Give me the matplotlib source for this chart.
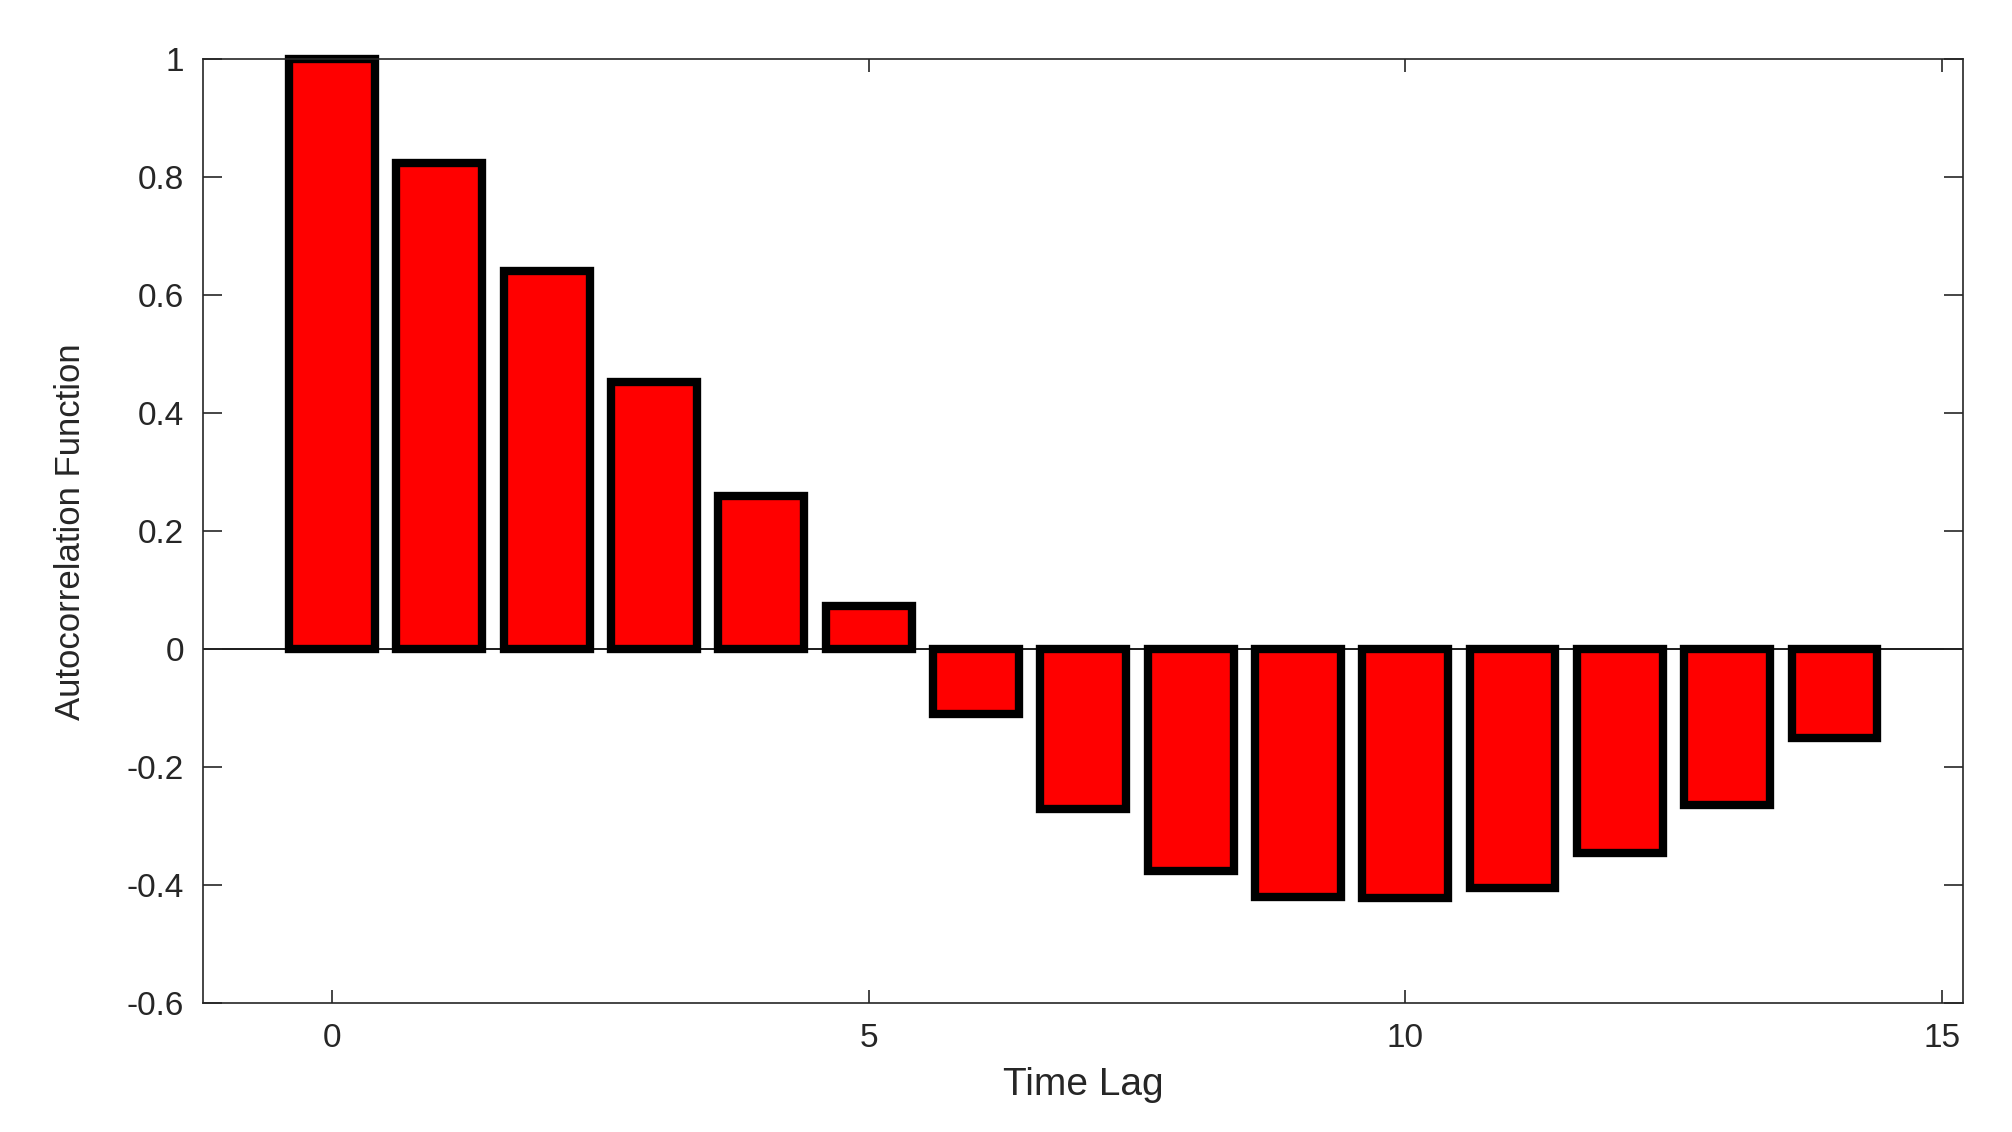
import matplotlib.pyplot as plt
from matplotlib import font_manager

# autocorrelation values
lags = list(range(15))
acf = [1.0, 0.824, 0.642, 0.453, 0.260, 0.074, -0.110, -0.270,
       -0.375, -0.419, -0.422, -0.404, -0.346, -0.264, -0.150]
xticks = [0, 5, 10, 15]
yticks = [-0.6, -0.4, -0.2, 0, 0.2, 0.4, 0.6, 0.8, 1]
ytick_labels = ['-0.6', '-0.4', '-0.2', '0', '0.2', '0.4', '0.6', '0.8', '1']

names = {f.name for f in font_manager.fontManager.ttflist}
narrow = 'Liberation Sans Narrow' if 'Liberation Sans Narrow' in names else 'Liberation Sans'

plt.rcParams['font.family'] = ['Liberation Sans', 'DejaVu Sans']
txt = '#262626'

fig = plt.figure(figsize=(20.12, 11.32), dpi=100)
ax = fig.add_axes([0.1010, 0.1137, 0.9758 - 0.1010, 0.9476 - 0.1137])

ax.axhline(0, color='#1a1a1a', lw=1.4, zorder=1)
ax.bar(lags, acf, width=0.8, color='#ff0000', edgecolor='black',
       linewidth=6, zorder=2, clip_on=False)

ax.set_xlim(-1.2, 15.2)
ax.set_ylim(-0.6, 1.0)
ax.set_xticks(xticks)
ax.set_yticks(yticks)
ax.set_yticklabels(ytick_labels)

for s in ax.spines.values():
    s.set_color(txt)
    s.set_linewidth(1.2)

ax.tick_params(axis='both', direction='in', top=True, right=True,
               color=txt, labelcolor=txt, labelsize=24, width=1.2)
ax.tick_params(axis='y', length=13.5, pad=14)
ax.tick_params(axis='x', length=9.5, pad=14)

ax.set_xlabel('Time Lag', fontsize=28, color=txt)
ax.set_ylabel('Autocorrelation Function', fontsize=30 if narrow != 'Liberation Sans' else 25,
              color=txt, family=[narrow, 'DejaVu Sans'])
ax.xaxis.set_label_coords(0.5, -0.068)
ax.yaxis.set_label_coords(-0.066, 0.5)

fig.savefig('out.png', dpi=100)
